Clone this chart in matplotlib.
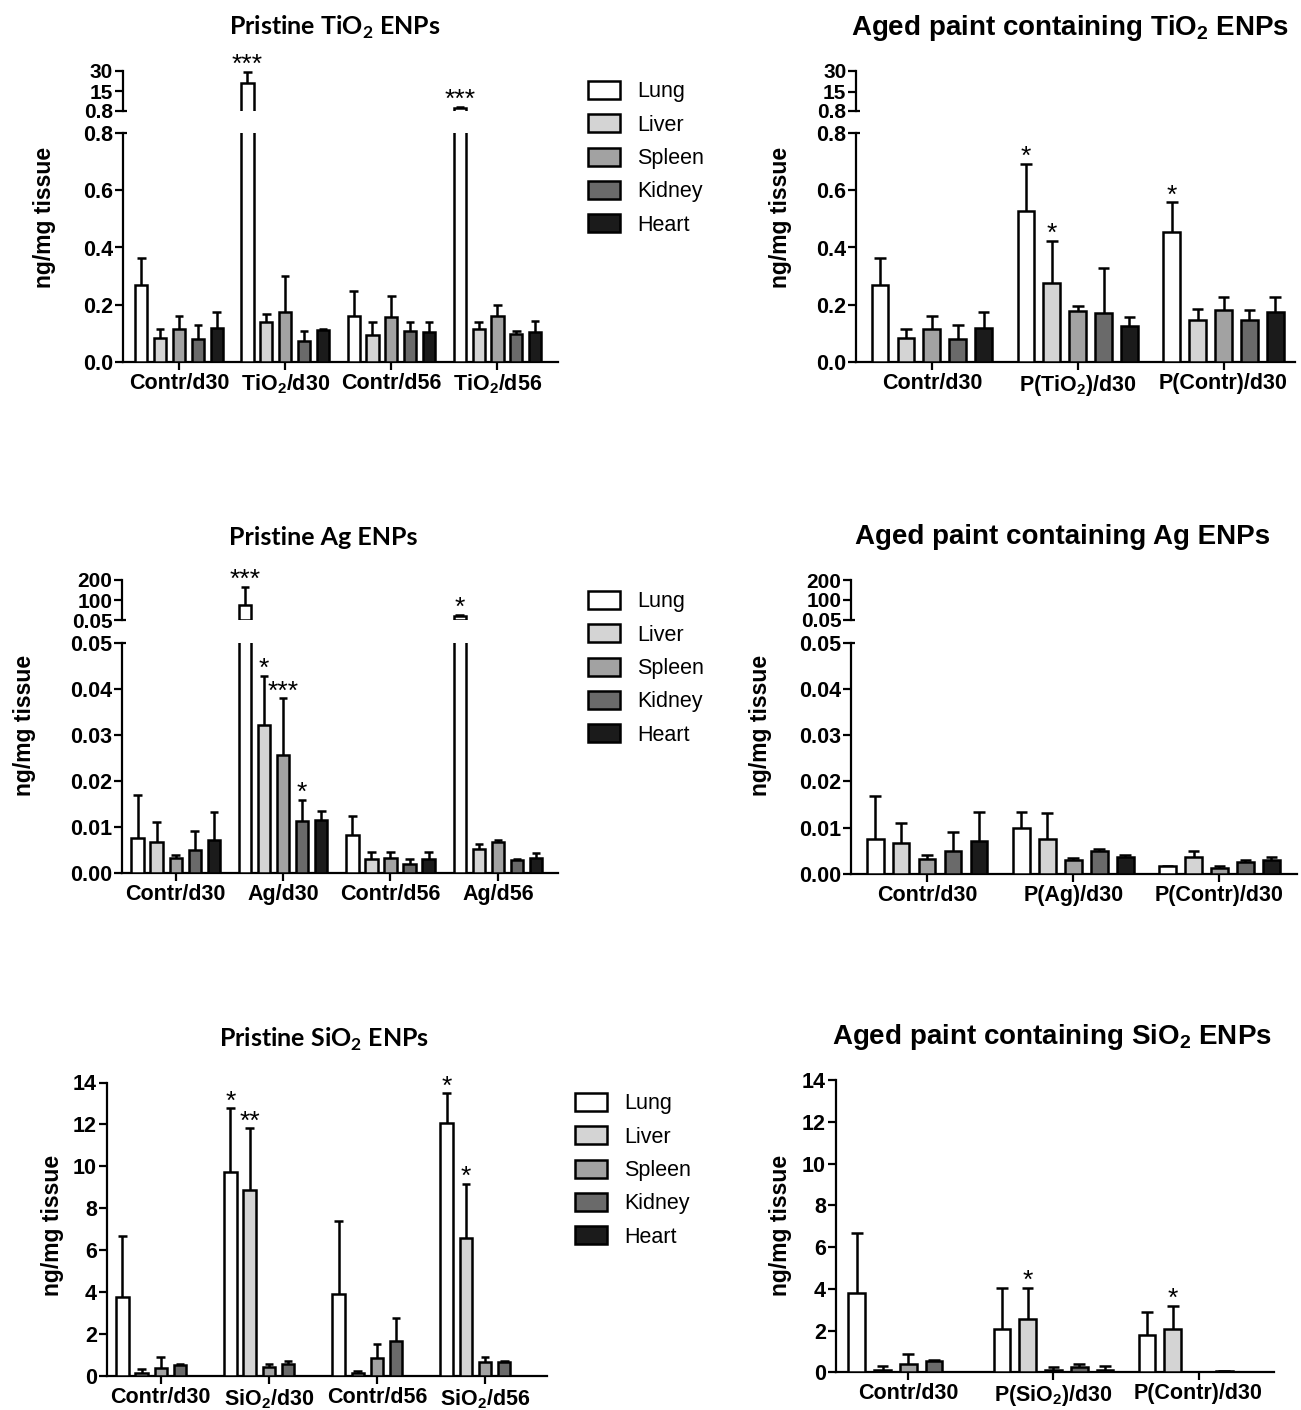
import numpy as np
import matplotlib
matplotlib.use('Agg')
import matplotlib.pyplot as plt
from matplotlib.patches import Patch
from matplotlib.ticker import FormatStrFormatter

nan = np.nan

# organs (bar order inside each group)
organs = ['Lung', 'Liver', 'Spleen', 'Kidney', 'Heart']
organ_colors = ['white', '#d4d4d4', '#a2a2a2', '#6a6a6a', '#1b1b1b']

# --- Pristine TiO2 ENPs (rows = groups, columns = organs)
tio2_groups = ['Contr/d30', r'TiO$_\mathregular{2}$/d30', 'Contr/d56', r'TiO$_\mathregular{2}$/d56']
tio2_mean = [[0.268, 0.082, 0.115, 0.080, 0.118],
             [21.0, 0.139, 0.173, 0.074, 0.112],
             [0.161, 0.095, 0.158, 0.108, 0.103],
             [2.8, 0.115, 0.161, 0.097, 0.103]]
tio2_sem = [[0.096, 0.033, 0.044, 0.050, 0.055],
            [8.3, 0.028, 0.127, 0.035, 0.003],
            [0.087, 0.043, 0.073, 0.030, 0.037],
            [0.8, 0.025, 0.038, 0.012, 0.041]]
tio2_stars = [(1, 0, '***'), (3, 0, '***')]

# --- Aged paint containing TiO2 ENPs
ptio2_groups = ['Contr/d30', r'P(TiO$_\mathregular{2}$)/d30', 'P(Contr)/d30']
ptio2_mean = [[0.268, 0.082, 0.115, 0.080, 0.118],
              [0.529, 0.275, 0.176, 0.169, 0.126],
              [0.453, 0.146, 0.182, 0.147, 0.173]]
ptio2_sem = [[0.096, 0.033, 0.044, 0.050, 0.055],
             [0.163, 0.147, 0.020, 0.158, 0.029],
             [0.105, 0.038, 0.043, 0.035, 0.054]]
ptio2_stars = [(1, 0, '*'), (1, 1, '*'), (2, 0, '*')]

# --- Pristine Ag ENPs
ag_groups = ['Contr/d30', 'Ag/d30', 'Contr/d56', 'Ag/d56']
ag_mean = [[0.0076, 0.0068, 0.0032, 0.0049, 0.0072],
           [75.0, 0.0321, 0.0256, 0.0112, 0.0115],
           [0.0082, 0.0030, 0.0033, 0.0019, 0.0031],
           [20.0, 0.0053, 0.0067, 0.0028, 0.0033]]
ag_sem = [[0.0093, 0.0043, 0.0008, 0.0042, 0.0061],
          [92.0, 0.0107, 0.0123, 0.0047, 0.0019],
          [0.0041, 0.0016, 0.0013, 0.0011, 0.0015],
          [5.0, 0.0009, 0.0004, 0.0003, 0.0011]]
ag_stars = [(1, 0, '***'), (1, 1, '*'), (1, 2, '***'), (1, 3, '*'), (3, 0, '*')]

# --- Aged paint containing Ag ENPs
pag_groups = ['Contr/d30', 'P(Ag)/d30', 'P(Contr)/d30']
pag_mean = [[0.0076, 0.0068, 0.0032, 0.0049, 0.0072],
            [0.0099, 0.0076, 0.0031, 0.0049, 0.0036],
            [0.0017, 0.0037, 0.0014, 0.0025, 0.0031]]
pag_sem = [[0.0093, 0.0043, 0.0008, 0.0042, 0.0061],
           [0.0035, 0.0056, 0.0003, 0.0004, 0.0004],
           [0.0001, 0.0013, 0.0003, 0.0006, 0.0005]]
pag_stars = []

# --- Pristine SiO2 ENPs (no heart data)
sio2_groups = ['Contr/d30', r'SiO$_\mathregular{2}$/d30', 'Contr/d56', r'SiO$_\mathregular{2}$/d56']
sio2_mean = [[3.78, 0.13, 0.40, 0.52, nan],
             [9.74, 8.87, 0.45, 0.56, nan],
             [3.91, 0.13, 0.87, 1.68, nan],
             [12.08, 6.56, 0.68, 0.65, nan]]
sio2_sem = [[2.91, 0.19, 0.49, 0.05, nan],
            [3.02, 2.94, 0.12, 0.17, nan],
            [3.48, 0.12, 0.64, 1.10, nan],
            [1.40, 2.62, 0.24, 0.08, nan]]
sio2_stars = [(1, 0, '*'), (1, 1, '**'), (3, 0, '*'), (3, 1, '*')]

# --- Aged paint containing SiO2 ENPs
psio2_groups = ['Contr/d30', r'P(SiO$_\mathregular{2}$)/d30', 'P(Contr)/d30']
psio2_mean = [[3.78, 0.13, 0.40, 0.52, nan],
              [2.08, 2.54, 0.11, 0.24, 0.11],
              [1.79, 2.06, 0.0, 0.05, nan]]
psio2_sem = [[2.91, 0.19, 0.49, 0.05, nan],
             [1.97, 1.51, 0.16, 0.14, 0.19],
             [1.08, 1.13, 0.0, 0.03, nan]]
psio2_stars = [(1, 1, '*'), (2, 1, '*')]

W, H = 1301, 1410
plt.rcParams['font.family'] = ['Liberation Sans', 'DejaVu Sans']
plt.rcParams['font.weight'] = 'bold'
plt.rcParams['axes.linewidth'] = 1.6

fig = plt.figure(figsize=(W / 100, H / 100), dpi=100)

STEP, WIDTH, CAP = 0.1775, 0.115, 0.04


def add_ax(l, t, r, b):
    return fig.add_axes([l / W, 1 - b / H, (r - l) / W, (b - t) / H])


def draw_bars(ax, mean, sem, vmin=None):
    # vmin: in the upper (broken) segment only the bars that reach it are drawn
    for g, (row, erow) in enumerate(zip(mean, sem)):
        for k, (v, e) in enumerate(zip(row, erow)):
            if np.isnan(v) or (vmin is not None and v <= vmin):
                continue
            x = g + (k - 2) * STEP
            ax.bar(x, v, WIDTH, color=organ_colors[k], edgecolor='black', linewidth=1.8, zorder=3)
            if e > 0:
                ax.vlines(x, v, v + e, color='black', lw=1.8, zorder=2)
                ax.hlines(v + e, x - CAP, x + CAP, color='black', lw=1.8, zorder=2)


def break_mark(ax, y, px_w):
    ax.plot([0, 4.0 / px_w], [y, y], transform=ax.transAxes, color='black',
            lw=1.6, clip_on=False, solid_capstyle='butt')


def panel(box, groups, mean, sem, stars, xlim, ylim, yticks, fmt,
          upper=None, upper_ticks=None, upper_labels=None):
    l, t, r, b = box
    ax = add_ax(l, t, r, b)
    draw_bars(ax, mean, sem)
    ax.set_xlim(xlim)
    ax.set_ylim(ylim)
    ax.set_yticks(yticks)
    if fmt:
        ax.yaxis.set_major_formatter(FormatStrFormatter(fmt))
    ax.set_xticks(range(len(groups)))
    ax.set_xticklabels(groups)
    for s in ['top', 'right']:
        ax.spines[s].set_visible(False)
    ax.tick_params(axis='y', width=1.6, length=6, labelsize=15.5, pad=1)
    ax.tick_params(axis='x', width=1.6, length=6, labelsize=15.5, pad=2)
    axu = None
    if upper is not None:
        ut, ub = upper
        axu = add_ax(l, ut, r, ub)
        draw_bars(axu, mean, sem, vmin=ylim[1])
        axu.set_xlim(xlim)
        axu.set_ylim(upper_ticks[0], upper_ticks[-1])
        axu.set_yticks(upper_ticks)
        axu.set_yticklabels(upper_labels)
        axu.set_xticks([])
        axu.patch.set_visible(False)
        for s in ['top', 'right', 'bottom']:
            axu.spines[s].set_visible(False)
        axu.tick_params(axis='y', width=1.6, length=6, labelsize=15, pad=1)
        break_mark(axu, 0, r - l)
        break_mark(ax, 1, r - l)
    for g, k, s in stars:
        x = g + (k - 2) * STEP
        top = mean[g][k] + sem[g][k]
        target = axu if (axu is not None and top > ylim[1]) else ax
        target.annotate(s, (x, top), xytext=(0, 0), textcoords='offset points',
                        ha='center', va='baseline', fontsize=19, fontweight='normal',
                        annotation_clip=False)
    return ax


def title(x, y, s, left_style):
    if left_style:
        fig.text(x / W, 1 - y / H, s, ha='center', va='center', fontsize=18,
                 family=['Lato', 'DejaVu Sans'], fontweight='bold')
    else:
        fig.text(x / W, 1 - y / H, s, ha='center', va='center', fontsize=20, fontweight='bold')


def ylabel(x, y):
    fig.text(x / W, 1 - y / H, 'ng/mg tissue', rotation=90, ha='center', va='center',
             fontsize=16.5, fontweight='bold')


def legend(x, y):
    handles = [Patch(facecolor=c, edgecolor='black', linewidth=1.8) for c in organ_colors]
    fig.legend(handles, organs, loc='upper left', bbox_to_anchor=(x / W, 1 - y / H),
               frameon=False, prop={'size': 15.5, 'weight': 'normal'},
               handlelength=1.5, handleheight=0.92, handletextpad=0.8,
               labelspacing=0.55, borderpad=0, borderaxespad=0)


# row 1: TiO2
panel((122.7, 133.3, 558, 361.7), tio2_groups, tio2_mean, tio2_sem, tio2_stars,
      (-0.53, 3.57), (0, 0.8), [0, 0.2, 0.4, 0.6, 0.8], '%.1f',
      upper=(70.7, 111), upper_ticks=[0.8, 15, 30], upper_labels=['0.8', '15', '30'])
panel((856, 133.3, 1295, 361.7), ptio2_groups, ptio2_mean, ptio2_sem, ptio2_stars,
      (-0.52, 2.49), (0, 0.8), [0, 0.2, 0.4, 0.6, 0.8], '%.1f',
      upper=(71, 111), upper_ticks=[0.8, 15, 30], upper_labels=['0.8', '15', '30'])
title(335, 27, r'Pristine TiO$_\mathregular{2}$ ENPs', True)
title(1070, 28, r'Aged paint containing TiO$_\mathregular{2}$ ENPs', False)
ylabel(45, 217)
ylabel(780, 217)
legend(588, 81)

# row 2: Ag
panel((122, 642.7, 558, 873), ag_groups, ag_mean, ag_sem, ag_stars,
      (-0.50, 3.56), (0, 0.05), [0, 0.01, 0.02, 0.03, 0.04, 0.05], '%.2f',
      upper=(580, 620), upper_ticks=[0.05, 100, 200], upper_labels=['0.05', '100', '200'])
panel((851, 642.7, 1297, 874), pag_groups, pag_mean, pag_sem, pag_stars,
      (-0.52, 2.53), (0, 0.05), [0, 0.01, 0.02, 0.03, 0.04, 0.05], '%.2f',
      upper=(580, 619.5), upper_ticks=[0.05, 100, 200], upper_labels=['0.05', '100', '200'])
title(323, 537, 'Pristine Ag ENPs', True)
title(1063, 537, 'Aged paint containing Ag ENPs', False)
ylabel(25, 725)
ylabel(760, 725)
legend(588, 591)

# row 3: SiO2
panel((106.7, 1082.5, 546.7, 1376), sio2_groups, sio2_mean, sio2_sem, sio2_stars,
      (-0.50, 3.57), (0, 14), [0, 2, 4, 6, 8, 10, 12, 14], None)
panel((835.7, 1080, 1274, 1372.3), psio2_groups, psio2_mean, psio2_sem, psio2_stars,
      (-0.50, 2.52), (0, 14), [0, 2, 4, 6, 8, 10, 12, 14], None)
title(324, 1039, r'Pristine SiO$_\mathregular{2}$ ENPs', True)
title(1052, 1037, r'Aged paint containing SiO$_\mathregular{2}$ ENPs', False)
ylabel(52, 1225)
ylabel(780, 1225)
legend(575, 1093)

fig.savefig('out.png', dpi=100)
